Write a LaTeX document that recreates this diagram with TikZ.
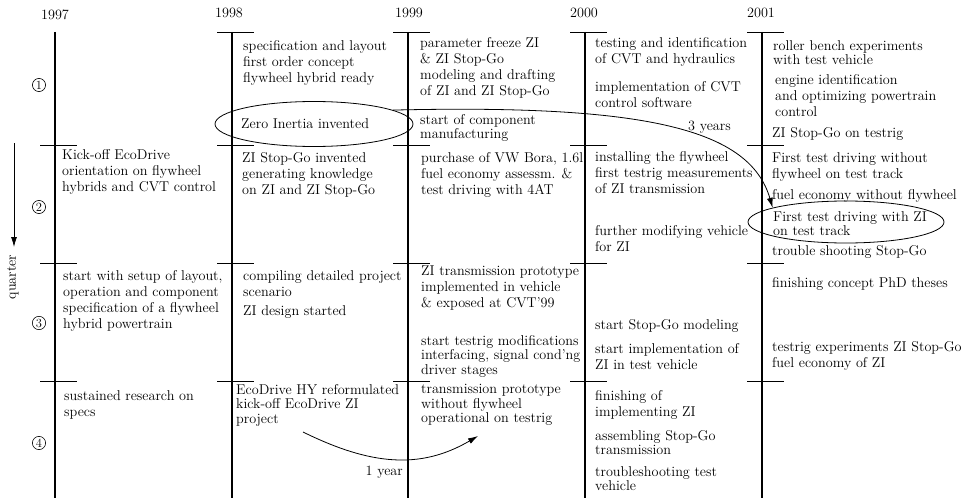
\documentclass[tikz,border=0pt]{standalone}
\usetikzlibrary{shapes.geometric,arrows.meta}
\begin{document}
\begin{tikzpicture}[x=1pt,y=-1pt,
  txt/.style={anchor=north west,align=left,inner sep=0pt,font=\fontsize{14.2}{16}\selectfont},
  tighttxt/.style={txt,font=\fontsize{14.2}{14.6}\selectfont},
  yr/.style={inner sep=0pt,font=\fontsize{14.2}{15}\selectfont},
  yearline/.style={line width=1.3pt},
  tickline/.style={line width=0.8pt},
  circnum/.style={circle,draw,line width=0.6pt,inner sep=1pt,font=\fontsize{12.5}{12.5}\selectfont},
  oval/.style={ellipse,draw,line width=0.8pt,inner sep=0pt},
  arr/.style={-{Latex[length=10pt,width=6pt]},line width=0.8pt}]
\useasboundingbox (0,0) rectangle (963,500);

% year lines
\draw[yearline] (55,32) -- (55,498);
\foreach \x in {232,408,585,762} {
  \draw[yearline] (\x,32) -- (\x,498);
  \draw[tickline] (\x-15,32) -- (\x+22,32);
}
\foreach \x in {55,232,408,585,762} {
  \foreach \y in {145,263,381} {
    \draw[tickline] (\x-15,\y) -- (\x+22,\y);
  }
}

% year labels
\node[yr] (y1997) at (55,15) {1997};
\node[yr] (y1998) at (229,13) {1998};
\node[yr] (y1999) at (409,13) {1999};
\node[yr] (y2000) at (584,13) {2000};
\node[yr] (y2001) at (761,13) {2001};

% quarter numbers
\node[circnum] (q1n) at (39,85) {1};
\node[circnum] (q2n) at (39,207) {2};
\node[circnum] (q3n) at (39,323) {3};
\node[circnum] (q4n) at (39,443) {4};

% quarter arrow
\coordinate (qa) at (14,143);
\coordinate (qb) at (14,247);
\draw[arr] (qa) -- (qb);
\node[yr,rotate=90] (qlabel) at (13,277) {quarter};

% 1997
\node[txt] (k2) at (62,149) {Kick-off EcoDrive\\orientation on flywheel\\hybrids and CVT control};
\node[txt] (k3) at (63,270) {start with setup of layout,\\operation and component\\specification of a flywheel\\hybrid powertrain};
\node[txt] (k4) at (64,390) {sustained research on\\specs};

% 1998
\node[txt] (a1) at (243,40) {specification and layout\\first order concept\\flywheel hybrid ready};
\node[oval,minimum width=198pt,minimum height=45pt] (ziell) at (314,124) {};
\node[txt] (zitxt) at (241,118) {Zero Inertia invented};
\node[txt] (a2) at (242,152) {ZI Stop-Go invented\\generating knowledge\\on ZI and ZI Stop-Go};
\node[txt] (a3) at (243,270) {compiling detailed project\\scenario};
\node[txt] (a3b) at (243,305) {ZI design started};
\node[tighttxt] (a4) at (236,384) {EcoDrive HY reformulated\\kick-off EcoDrive ZI\\project};

% 1999
\node[txt] (b1) at (420,37) {parameter freeze ZI\\\& ZI Stop-Go\\modeling and drafting\\of ZI and ZI Stop-Go};
\node[tighttxt] (b1b) at (420,114) {start of component\\manufacturing};
\node[txt] (b2) at (421,152) {purchase of VW Bora, 1.6l\\fuel economy assessm. \&\\test driving with 4AT};
\node[txt] (b3) at (421,266) {ZI transmission prototype\\implemented in vehicle\\\& exposed at CVT'99};
\node[tighttxt] (b3b) at (421,335) {start testrig modifications\\interfacing, signal cond'ng\\driver stages};
\node[tighttxt] (b4) at (421,384) {transmission prototype\\without flywheel\\operational on testrig};

% 2000
\node[txt] (c1) at (595,37) {testing and identification\\of CVT and hydraulics};
\node[txt] (c1b) at (595,81) {implementation of CVT\\control software};
\node[txt] (c2) at (595,151) {installing the flywheel\\first testrig measurements\\of ZI transmission};
\node[txt] (c2b) at (595,225) {further modifying vehicle\\for ZI};
\node[txt] (c3) at (595,319) {start Stop-Go modeling};
\node[txt] (c3b) at (595,343) {start implementation of\\ZI in test vehicle};
\node[txt] (c4) at (595,390) {finishing of\\implementing ZI};
\node[tighttxt] (c4b) at (595,430) {assembling Stop-Go\\transmission};
\node[tighttxt] (c4c) at (595,466) {troubleshooting test\\vehicle};

% 2001
\node[tighttxt] (d1) at (773,40) {roller bench experiments\\with test vehicle};
\node[txt] (d1b) at (775,74) {engine identification\\and optimizing powertrain\\control};
\node[txt] (d1c) at (772,127) {ZI Stop-Go on testrig};
\node[txt] (d2) at (772,152) {First test driving without\\flywheel on test track};
\node[txt] (d2b) at (772,189) {fuel economy without flywheel};
\node[oval,minimum width=196pt,minimum height=42pt] (ftell) at (846,222) {};
\node[tighttxt] (fttxt) at (773,211) {First test driving with ZI\\on test track};
\node[txt] (d2c) at (772,245) {trouble shooting Stop-Go};
\node[txt] (d3) at (772,277) {finishing concept PhD theses};
\node[txt] (d3b) at (772,341) {testrig experiments ZI Stop-Go\\fuel economy of ZI};

% 3 years arrow
\draw[arr] (ziell.10) .. controls (650,104) and (750,130) .. (ftell.169);
\node[yr,anchor=west] (threey) at (688,127) {3 years};

% 1 year arrow
\coordinate (oya) at (303,432);
\coordinate (oyb) at (478,436);
\draw[arr] (oya) .. controls (370,465) and (420,470) .. (oyb);
\node[yr,anchor=east] (oney) at (403,472) {1 year};
\end{tikzpicture}
\end{document}
